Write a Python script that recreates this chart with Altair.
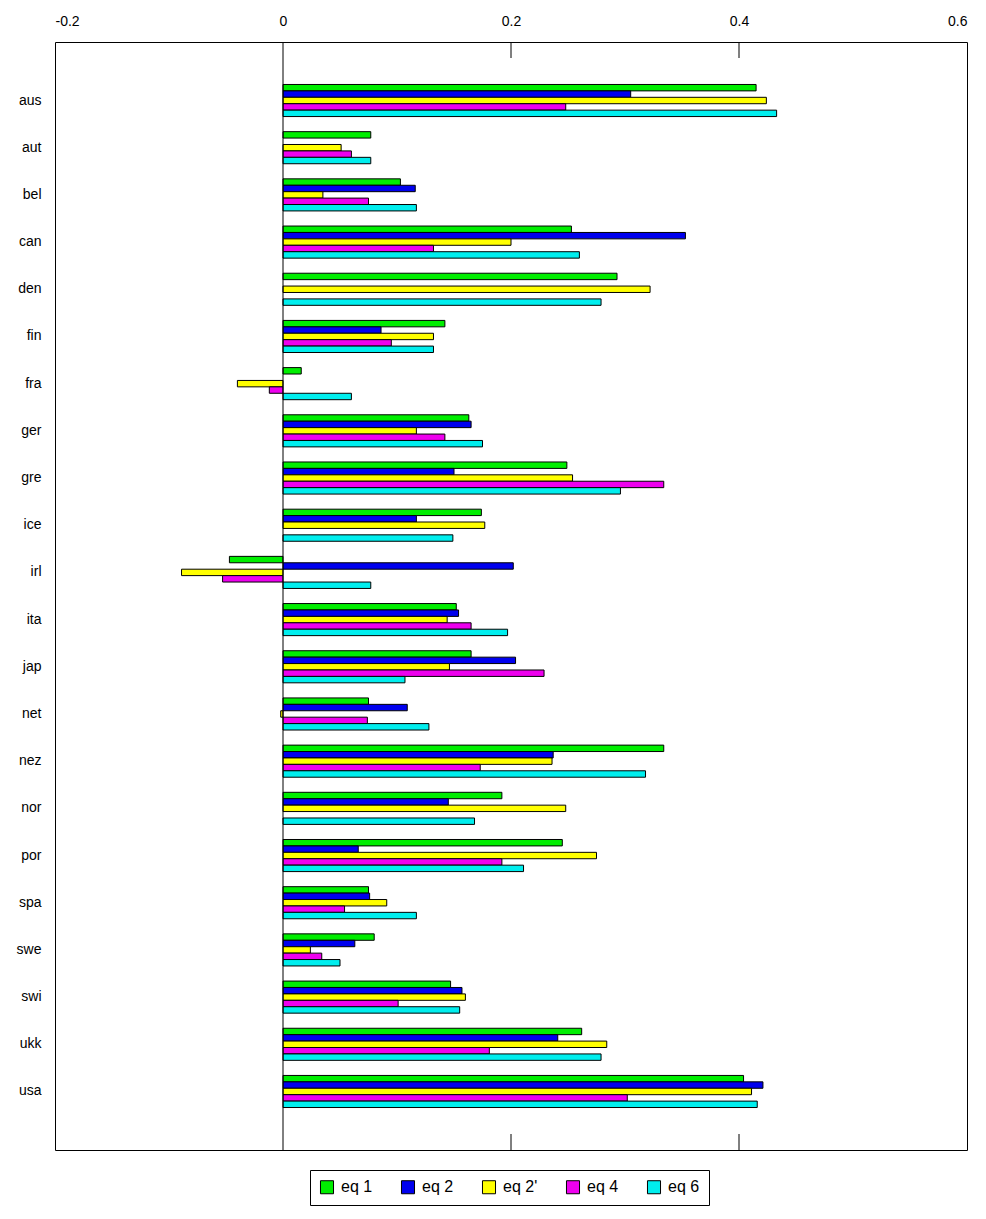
import altair as alt
import pandas as pd

countries = ["aus","aut","bel","can","den","fin","fra","ger","gre","ice","irl","ita","jap","net","nez","nor","por","spa","swe","swi","ukk","usa"]
series = ["eq 1","eq 2","eq 2'","eq 4","eq 6"]
colors = ["#00ee00","#0000ee","#ffff00","#ee00ee","#00eeee"]
eq1  = [0.415,0.077,0.103,0.253,0.293,0.142,0.016,0.163,0.249,0.174,-0.047,0.152,0.165,0.075,0.334,0.192,0.245,0.075,0.080,0.147,0.262,0.404]
eq2  = [0.305,None,0.116,0.353,None,0.086,None,0.165,0.150,0.117,0.202,0.154,0.204,0.109,0.237,0.145,0.066,0.076,0.063,0.157,0.241,0.421]
eq2p = [0.424,0.051,0.035,0.200,0.322,0.132,-0.040,0.117,0.254,0.177,-0.089,0.144,0.146,-0.002,0.236,0.248,0.275,0.091,0.024,0.160,0.284,0.411]
eq4  = [0.248,0.060,0.075,0.132,None,0.095,-0.012,0.142,0.334,None,-0.053,0.165,0.229,0.074,0.173,None,0.192,0.054,0.034,0.101,0.181,0.302]
eq6  = [0.433,0.077,0.117,0.260,0.279,0.132,0.060,0.175,0.296,0.149,0.077,0.197,0.107,0.128,0.318,0.168,0.211,0.117,0.050,0.155,0.279,0.416]

rows = []
for s, vals in zip(series, [eq1, eq2, eq2p, eq4, eq6]):
    for c, v in zip(countries, vals):
        if v is not None:
            rows.append({"country": c, "series": s, "value": v})
df = pd.DataFrame(rows)

FONT = "Liberation Sans"
ysc = alt.Scale(domain=countries, paddingInner=0.32, paddingOuter=0.9)
xsc = alt.Scale(domain=[-0.2, 0.6], nice=False, zero=False)

bars = alt.Chart(df).mark_bar(stroke="black", strokeWidth=1).encode(
    y=alt.Y("country:N", scale=ysc, sort=countries, title=None,
            axis=alt.Axis(ticks=False, domain=False, labelFontSize=14, labelFont=FONT, labelPadding=14, labelColor="black")),
    yOffset=alt.YOffset("series:N", scale=alt.Scale(domain=series, paddingInner=0, paddingOuter=0), sort=series),
    x=alt.X("value:Q", scale=xsc, title=None,
            axis=alt.Axis(orient="top", values=[-0.2,0,0.2,0.4,0.6],
                          labelExpr="datum.value == 0 ? '0' : (datum.value < 0 ? '-' : '') + format(abs(datum.value), '.1f')",
                          grid=False, domain=False, tickSize=0, labelFontSize=14, labelFont=FONT, labelPadding=14, labelColor="black")),
    color=alt.Color("series:N", scale=alt.Scale(domain=series, range=colors), sort=series,
                    legend=alt.Legend(title=None, orient="none", legendX=255, legendY=1128, direction="horizontal", symbolType="square",
                                      symbolSize=170, symbolStrokeColor="black", symbolStrokeWidth=1,
                                      labelFontSize=16, labelFont=FONT, strokeColor="black", padding=9,
                                      columnPadding=26, labelOffset=6, symbolOpacity=1, fillColor="white")),
)

zero = alt.Chart(pd.DataFrame({"x": [0]})).mark_rule(color="black", strokeWidth=1).encode(x=alt.X("x:Q", scale=xsc))
tdf = pd.DataFrame({"x": [0.2, 0.4]})
ttop = alt.Chart(tdf).mark_rule(color="black").encode(x=alt.X("x:Q", scale=xsc), y=alt.value(0), y2=alt.value(16))
tbot = alt.Chart(tdf).mark_rule(color="black").encode(x=alt.X("x:Q", scale=xsc), y=alt.value(1092), y2=alt.value(1108))

chart = alt.layer(bars, zero, ttop, tbot).properties(
    width=912, height=1108, padding={"left": 8, "top": 6, "right": 5, "bottom": 5}
).configure(background="white").configure_view(stroke="black", strokeWidth=1)
chart.save("out.html", embed_options={"renderer": "svg", "actions": False})
